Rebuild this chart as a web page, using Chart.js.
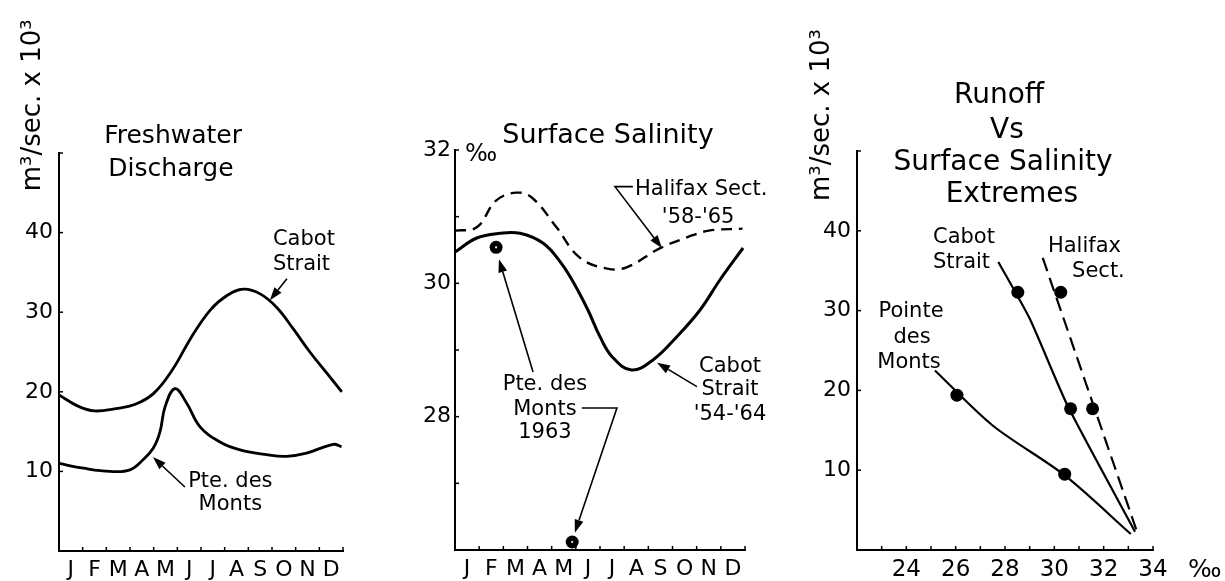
<!DOCTYPE html>
<html>
<head>
<meta charset="utf-8">
<script src="https://cdn.jsdelivr.net/npm/chart.js"></script>
<style>
  body { margin: 0; background: #fff; }
  .wrap { position: relative; width: 1225px; height: 581px; }
  .wrap canvas { position: absolute; left: 0; top: 0; }
</style>
</head>
<body>
<div class="wrap">
  <canvas id="flow" width="1225" height="581"></canvas>
  <canvas id="salinity" width="1225" height="581"></canvas>
  <canvas id="runoff" width="1225" height="581"></canvas>
</div>
<script>
// eixo x dos dois primeiros graficos: meses (0 = 1 jan, 12 = 31 dez)
const months = ['J', 'F', 'M', 'A', 'M', 'J', 'J', 'A', 'S', 'O', 'N', 'D'];
const monthMid = [0.5, 1.5, 2.5, 3.5, 4.5, 5.5, 6.5, 7.5, 8.5, 9.5, 10.5, 11.5];

// Freshwater discharge, m3/s x 10^3
const cabotFlowX = [0, 0.8, 1.5, 2.4, 3.2, 4.0, 4.8, 5.6, 6.4, 7.1, 7.8, 8.5, 9.2, 9.9, 10.6, 11.3, 11.95];
const cabotFlowY = [19.6, 18.2, 17.6, 17.9, 18.4, 19.8, 22.8, 26.9, 30.3, 32.1, 32.9, 32.3, 30.6, 27.9, 25.0, 22.4, 20.0];
const montsFlowX = [0, 1.03, 2.15, 3.0, 3.56, 3.98, 4.27, 4.48, 4.9, 5.39, 5.96, 6.8, 7.65, 8.77, 9.62, 10.46, 11.59, 11.94];
const montsFlowY = [11.0, 10.4, 10.0, 10.2, 11.5, 12.9, 15.0, 18.1, 20.4, 18.6, 15.6, 13.7, 12.7, 12.1, 11.9, 12.3, 13.4, 13.1];
const flowTicks = [10, 20, 30, 40];

// Surface salinity, per mil
const halifaxSalX = [0, 0.9, 1.7, 2.55, 3.2, 4.2, 5.15, 6.3, 7.1, 8.45, 9.6, 10.5, 11.9];
const halifaxSalY = [30.79, 30.84, 31.24, 31.36, 31.28, 30.84, 30.39, 30.22, 30.24, 30.52, 30.69, 30.79, 30.82];
const cabotSalX = [0, 0.9, 1.86, 2.69, 3.65, 4.4, 5.0, 5.5, 6.0, 6.5, 7.3, 8.19, 9.18, 10.14, 10.96, 11.92];
const cabotSalY = [30.47, 30.68, 30.75, 30.75, 30.6, 30.3, 29.95, 29.6, 29.2, 28.9, 28.7, 28.85, 29.2, 29.6, 30.05, 30.53];
const monts63X = [1.7, 4.85];
const monts63Y = [30.54, 26.12];
const salTicks = [28, 30, 32];

// Runoff vs surface salinity extremes
const cabotPtX = [28.52, 30.66];
const cabotPtY = [32.3, 17.7];
const halifaxPtX = [30.26, 31.55];
const halifaxPtY = [32.3, 17.7];
const montsPtX = [26.05, 30.42];
const montsPtY = [19.4, 9.5];
const cabotFitX = [27.73, 29.0, 30.55, 33.27];
const cabotFitY = [36.1, 29.0, 18.0, 2.3];
const halifaxFitX = [29.53, 33.34];
const halifaxFitY = [36.6, 2.4];
const montsFitX = [25.16, 27.5, 30.4, 33.1];
const montsFitY = [22.5, 15.6, 9.4, 2.0];
const salXTicks = [24, 26, 28, 30, 32, 34];

Chart.defaults.font.family = '"DejaVu Sans", sans-serif';
Chart.defaults.color = '#000';

const FONT = '"DejaVu Sans", sans-serif';
const xy = (xs, ys) => xs.map((x, i) => ({ x: x, y: ys[i] }));

// textos, setas e marcas de escala para dentro, em coordenadas dos dados
function notesPlugin(notes) {
  return {
    id: 'notes',
    afterDraw(chart) {
      const ctx = chart.ctx, xs = chart.scales.x, ys = chart.scales.y;
      const px = v => xs.getPixelForValue(v);
      const py = v => ys.getPixelForValue(v);
      const area = chart.chartArea;
      ctx.save();
      ctx.strokeStyle = '#000';
      ctx.fillStyle = '#000';
      ctx.lineWidth = 1.5;
      // marcas pequenas voltadas para dentro
      let n = Math.round((xs.max - xs.min) / notes.xStep);
      for (let i = 1; i <= n; i++) {
        const p = px(xs.min + i * notes.xStep);
        ctx.beginPath(); ctx.moveTo(p, area.bottom); ctx.lineTo(p, area.bottom - 4); ctx.stroke();
      }
      n = Math.round((ys.max - ys.min) / notes.yStep);
      for (let i = 1; i <= n; i++) {
        const p = py(ys.min + i * notes.yStep);
        ctx.beginPath(); ctx.moveTo(area.left, p); ctx.lineTo(area.left + 4, p); ctx.stroke();
      }
      // textos
      notes.texts.forEach(t => {
        ctx.font = t.size + 'px ' + FONT;
        ctx.textAlign = t.align || 'left';
        ctx.textBaseline = t.rot ? 'middle' : 'alphabetic';
        ctx.save();
        ctx.translate(px(t.x), py(t.y));
        if (t.rot) ctx.rotate(t.rot);
        ctx.fillText(t.text, 0, 0);
        ctx.restore();
      });
      // setas
      ctx.lineWidth = 1.6;
      notes.arrows.forEach(a => {
        const pts = a.map(p => [px(p[0]), py(p[1])]);
        const [x1, y1] = pts[pts.length - 2];
        const [x2, y2] = pts[pts.length - 1];
        const ang = Math.atan2(y2 - y1, x2 - x1);
        const len = 13, w = 4.5;
        const bx = x2 - len * Math.cos(ang), by = y2 - len * Math.sin(ang);
        ctx.beginPath();
        ctx.moveTo(pts[0][0], pts[0][1]);
        for (let i = 1; i < pts.length - 1; i++) ctx.lineTo(pts[i][0], pts[i][1]);
        ctx.lineTo(bx, by);
        ctx.stroke();
        ctx.beginPath();
        ctx.moveTo(x2, y2);
        ctx.lineTo(bx + w * Math.sin(ang), by - w * Math.cos(ang));
        ctx.lineTo(bx - w * Math.sin(ang), by + w * Math.cos(ang));
        ctx.closePath();
        ctx.fill();
      });
      ctx.restore();
    }
  };
}

function axes(o) {
  return {
    x: {
      type: 'linear', min: o.xMin, max: o.xMax,
      border: { color: '#000', width: 2 },
      grid: { drawOnChartArea: false, drawTicks: false },
      afterBuildTicks: s => { s.ticks = o.xTicks.map(v => ({ value: v })); },
      afterFit: s => { s.height = o.xH; },
      ticks: { autoSkip: false, maxRotation: 0, padding: o.xPad, font: { size: o.xFont }, callback: o.xLabel }
    },
    y: {
      type: 'linear', min: o.yMin, max: o.yMax,
      border: { color: '#000', width: 2 },
      grid: { drawOnChartArea: false, drawTicks: false },
      afterBuildTicks: s => { s.ticks = o.yTicks.map(v => ({ value: v })); },
      afterFit: s => { s.width = o.yW; },
      ticks: { autoSkip: false, padding: o.yPad, font: { size: o.yFont } }
    }
  };
}

function curve(data, width, dash, tension) {
  return {
    data: data, borderColor: '#000', borderWidth: width,
    borderDash: dash || [], pointRadius: 0, tension: tension === undefined ? 0.4 : tension, fill: false
  };
}

function dots(data, r, color, order) {
  return {
    data: data, showLine: false, pointRadius: r, pointBackgroundColor: color,
    pointBorderWidth: 0, order: order || 0
  };
}

function baseOptions(pad, scales) {
  return {
    responsive: false, animation: false, events: [],
    layout: { padding: pad },
    plugins: { legend: { display: false }, tooltip: { enabled: false } },
    scales: scales
  };
}

// Grafico 1: Freshwater Discharge
new Chart(document.getElementById('flow'), {
  type: 'line',
  data: { datasets: [
    curve(xy(cabotFlowX, cabotFlowY), 2.8),
    curve(xy(montsFlowX, montsFlowY), 2.8)
  ] },
  options: baseOptions({ left: 0, top: 153, right: 882, bottom: 0 }, axes({
    xMin: 0, xMax: 12, xTicks: monthMid, xH: 30, xPad: 6, xFont: 22, xLabel: (v, i) => months[i],
    yMin: 0, yMax: 50, yTicks: flowTicks, yW: 59, yPad: 6, yFont: 22
  })),
  plugins: [notesPlugin({
    xStep: 1, yStep: 10,
    texts: [
      { text: 'Freshwater', x: 4.82, y: 51.3, size: 25, align: 'center' },
      { text: 'Discharge', x: 4.73, y: 47.1, size: 25, align: 'center' },
      { text: 'Cabot', x: 9.04, y: 38.4, size: 21 },
      { text: 'Strait', x: 9.04, y: 35.3, size: 21 },
      { text: 'Pte. des', x: 7.24, y: 8.04, size: 21, align: 'center' },
      { text: 'Monts', x: 7.24, y: 5.15, size: 21, align: 'center' },
      { text: 'm³/sec. x 10³', x: -1.1, y: 56.0, size: 26, align: 'center', rot: -Math.PI / 2 }
    ],
    arrows: [
      [[9.63, 34.2], [8.91, 31.5]],
      [[5.32, 8.04], [3.97, 11.8]]
    ]
  })]
});

// Grafico 2: Surface Salinity
new Chart(document.getElementById('salinity'), {
  type: 'line',
  data: { datasets: [
    curve(xy(halifaxSalX, halifaxSalY), 2.4, [11, 7]),
    curve(xy(cabotSalX, cabotSalY), 3),
    dots(xy(monts63X, monts63Y), 1.1, '#fff', 0),
    dots(xy(monts63X, monts63Y), 6.5, '#000', 1)
  ] },
  options: baseOptions({ left: 400, top: 150, right: 480, bottom: 0 }, axes({
    xMin: 0, xMax: 12, xTicks: monthMid, xH: 31, xPad: 6, xFont: 22, xLabel: (v, i) => months[i],
    yMin: 26, yMax: 32, yTicks: salTicks, yW: 55, yPad: 4, yFont: 22
  })),
  plugins: [notesPlugin({
    xStep: 1, yStep: 1,
    texts: [
      { text: 'Surface Salinity', x: 6.33, y: 32.1, size: 27, align: 'center' },
      { text: '‰', x: 0.41, y: 31.84, size: 24 },
      { text: 'Halifax Sect.', x: 7.45, y: 31.33, size: 21 },
      { text: "'58-'65", x: 8.56, y: 30.9, size: 21 },
      { text: 'Pte. des', x: 3.72, y: 28.4, size: 21, align: 'center' },
      { text: 'Monts', x: 3.72, y: 28.03, size: 21, align: 'center' },
      { text: '1963', x: 3.72, y: 27.68, size: 21, align: 'center' },
      { text: 'Cabot', x: 11.38, y: 28.67, size: 21, align: 'center' },
      { text: 'Strait', x: 11.38, y: 28.33, size: 21, align: 'center' },
      { text: "'54-'64", x: 11.38, y: 27.95, size: 21, align: 'center' }
    ],
    arrows: [
      [[7.36, 31.45], [6.62, 31.45], [8.56, 30.53]],
      [[3.23, 28.67], [1.82, 30.36]],
      [[5.25, 28.13], [6.70, 28.13], [4.96, 26.26]],
      [[10.01, 28.45], [8.36, 28.81]]
    ]
  })]
});

// Grafico 3: Runoff vs Surface Salinity Extremes
new Chart(document.getElementById('runoff'), {
  type: 'line',
  data: { datasets: [
    curve(xy(cabotFitX, cabotFitY), 2.2, [], 0.2),
    curve(xy(halifaxFitX, halifaxFitY), 2.2, [14, 7], 0),
    curve(xy(montsFitX, montsFitY), 2.2, [], 0.3),
    dots(xy(cabotPtX, cabotPtY), 6.5, '#000'),
    dots(xy(halifaxPtX, halifaxPtY), 6.5, '#000'),
    dots(xy(montsPtX, montsPtY), 6.5, '#000')
  ] },
  options: baseOptions({ left: 800, top: 151, right: 72, bottom: 0 }, axes({
    xMin: 22, xMax: 34, xTicks: salXTicks, xH: 31, xPad: 6, xFont: 23,
    yMin: 0, yMax: 50, yTicks: flowTicks, yW: 57, yPad: 6, yFont: 22
  })),
  plugins: [notesPlugin({
    xStep: 1, yStep: 10,
    texts: [
      { text: 'Runoff', x: 27.76, y: 56.0, size: 28, align: 'center' },
      { text: 'Vs', x: 28.08, y: 51.6, size: 28, align: 'center' },
      { text: 'Surface Salinity', x: 27.92, y: 47.6, size: 28, align: 'center' },
      { text: 'Extremes', x: 28.28, y: 43.6, size: 28, align: 'center' },
      { text: 'Cabot', x: 25.08, y: 38.5, size: 21 },
      { text: 'Strait', x: 25.08, y: 35.3, size: 21 },
      { text: 'Halifax', x: 29.74, y: 37.3, size: 21 },
      { text: 'Sect.', x: 30.72, y: 34.2, size: 21 },
      { text: 'Pointe', x: 24.19, y: 29.2, size: 21, align: 'center' },
      { text: 'des', x: 24.23, y: 25.9, size: 21, align: 'center' },
      { text: 'Monts', x: 24.11, y: 22.8, size: 21, align: 'center' },
      { text: '‰', x: 35.42, y: -3.4, size: 25 },
      { text: 'm³/sec. x 10³', x: 20.58, y: 54.5, size: 26, align: 'center', rot: -Math.PI / 2 }
    ],
    arrows: []
  })]
});
</script>
</body>
</html>
